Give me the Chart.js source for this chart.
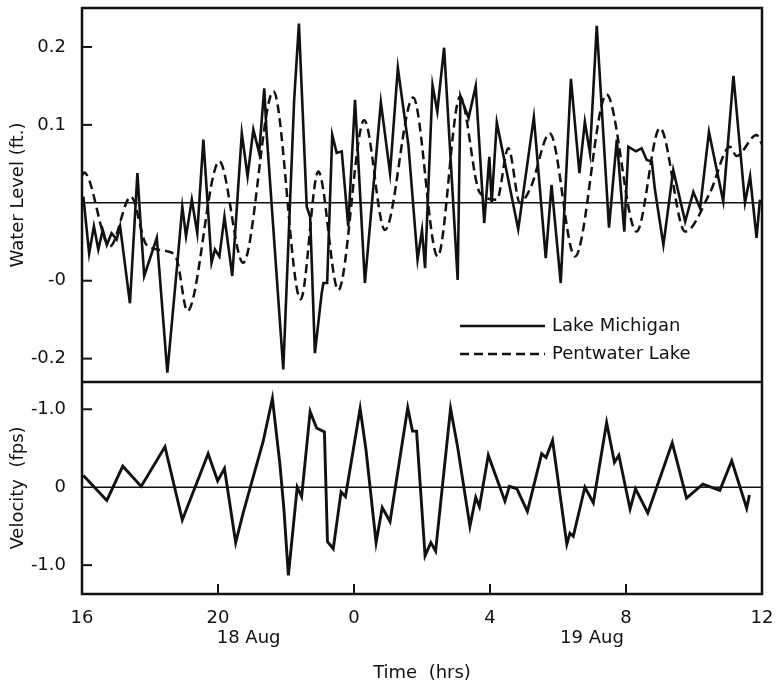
<!DOCTYPE html>
<html>
<head>
<meta charset="utf-8">
<title>Water level and velocity</title>
<script src="https://cdn.jsdelivr.net/npm/chart.js@4.4.0/dist/chart.umd.min.js"></script>
<style>
  html, body { margin: 0; padding: 0; background: #fff; }
</style>
</head>
<body>
<canvas id="levelChart" width="777" height="686"></canvas>
<script>
// hours since 0:00 on 18 Aug (16 = 16:00 18 Aug, 36 = 12:00 19 Aug)
const lmHours = [16.04,16.21,16.35,16.48,16.61,16.73,16.87,17.02,17.12,17.41,17.63,17.71,17.83,18.2,18.51,18.83,18.95,19.06,19.23,19.39,
  19.57,19.81,19.91,20.04,20.19,20.42,20.7,20.87,21.04,21.21,21.36,21.43,21.92,22.24,22.38,22.61,22.71,22.85,23.05,23.1,
  23.21,23.36,23.49,23.64,23.83,24.03,24.32,24.79,25.06,25.29,25.6,25.87,26.0,26.09,26.31,26.45,26.65,27.05,27.13,27.37,
  27.58,27.83,27.98,28.05,28.2,28.83,29.29,29.64,29.81,30.08,30.38,30.63,30.79,30.94,31.14,31.5,31.73,31.95,32.07,32.29,
  32.46,32.61,32.76,32.85,33.1,33.39,33.74,33.98,34.18,34.44,34.86,35.16,35.5,35.65,35.84,35.94];
const lmLevel = [0.008,-0.065,-0.03,-0.06,-0.035,-0.054,-0.039,-0.047,-0.03,-0.129,0.038,-0.018,-0.094,-0.045,-0.218,-0.065,-0.005,-0.043,0.004,-0.039,
  0.081,-0.077,-0.06,-0.069,-0.018,-0.094,0.089,0.034,0.094,0.064,0.147,0.089,-0.214,0.132,0.23,-0.005,-0.018,-0.193,-0.116,-0.103,
  -0.103,0.087,0.064,0.066,-0.03,0.132,-0.103,0.129,0.038,0.173,0.074,-0.073,-0.035,-0.084,0.151,0.117,0.199,-0.099,0.137,0.109,
  0.15,-0.026,0.059,0,0.103,-0.034,0.11,-0.071,0.023,-0.103,0.159,0.038,0.104,0.064,0.227,-0.032,0.081,-0.037,0.072,0.066,
  0.07,0.055,0.053,0.017,-0.054,0.042,-0.024,0.014,-0.007,0.091,0.002,0.163,0,0.034,-0.045,0.004];

const pwHours = [16.0,16.06,16.82,17.44,17.9,18.49,18.79,19.1,20.04,20.74,21.63,22.43,22.95,23.54,24.3,24.91,25.74,26.46,27.12,27.7,
  28.2,28.54,28.88,29.2,29.76,30.5,31.43,32.31,33.0,33.74,34.47,35.06,35.25,35.84,36.0];
const pwLevel = [0.035,0.039,-0.056,0.008,-0.054,-0.062,-0.073,-0.139,0.053,-0.077,0.143,-0.124,0.04,-0.112,0.106,-0.035,0.135,-0.069,0.136,0.013,
  0.004,0.07,0.0,0.02,0.089,-0.069,0.139,-0.037,0.096,-0.037,0.013,0.072,0.06,0.087,0.075];

const velHours = [16.04,16.73,17.2,17.74,18.44,18.95,19.71,19.99,20.19,20.52,20.74,21.33,21.6,21.82,21.94,22.07,22.33,22.46,22.71,22.9,
  23.13,23.22,23.39,23.62,23.75,24.18,24.35,24.65,24.83,25.06,25.58,25.72,25.84,26.09,26.26,26.4,26.84,27.05,27.41,27.58,
  27.69,27.95,28.44,28.57,28.79,29.1,29.52,29.65,29.84,30.26,30.35,30.45,30.79,31.04,31.43,31.66,31.79,32.12,32.28,32.64,
  33.36,33.78,34.26,34.76,35.11,35.55,35.63];
const velValues = [0.15,-0.17,0.27,0.01,0.52,-0.42,0.43,0.08,0.24,-0.71,-0.33,0.59,1.14,0.30,-0.29,-1.13,0.0,-0.12,0.97,0.76,
  0.71,-0.70,-0.79,-0.06,-0.12,1.01,0.49,-0.71,-0.26,-0.44,1.02,0.72,0.72,-0.88,-0.71,-0.82,1.01,0.51,-0.50,-0.13,
  -0.25,0.41,-0.18,0.01,-0.02,-0.31,0.43,0.38,0.60,-0.73,-0.59,-0.63,0.0,-0.2,0.83,0.32,0.41,-0.28,-0.02,-0.33,
  0.57,-0.14,0.04,-0.04,0.34,-0.27,-0.10];

const timeTicks = [16, 20, 24, 28, 32, 36];
const timeTickLabels = ['16', '20', '0', '4', '8', '12'];
const levelTicks = [0.2, 0.1, 0, -0.1, -0.2];
const levelTickLabels = ['0.2', '0.1', '', '-0', '-0.2'];
const velTicks = [1, 0, -1];
const velTickLabels = ['-1.0', '0', '-1.0'];
const dayLabels = ['18 Aug', '19 Aug'];
const dayLabelHours = [20.9, 31.0];

const INK = '#111';
const FONT = '"DejaVu Sans", sans-serif';

function toPoints(xs, ys) {
    return xs.map((h, i) => ({x: h, y: ys[i]}));
}

function line(ctx, x1, y1, x2, y2) {
    ctx.beginPath();
    ctx.moveTo(x1, y1);
    ctx.lineTo(x2, y2);
    ctx.stroke();
}

function fitY(s) {
    s.width = 82;
    s.paddingTop = 0;
    s.paddingBottom = 0;
}

// frame, zero lines, inward ticks, day labels and the legend box
const framePlugin = {
    id: 'frame',
    afterDraw(chart) {
        const ctx = chart.ctx;
        const a = chart.chartArea;
        const xs = chart.scales.x, ys = chart.scales.y, vs = chart.scales.y2;
        ctx.save();
        ctx.strokeStyle = INK;
        ctx.fillStyle = INK;

        ctx.lineWidth = 1.6;
        line(ctx, a.left, ys.getPixelForValue(0), a.right, ys.getPixelForValue(0));
        line(ctx, a.left, vs.getPixelForValue(0), a.right, vs.getPixelForValue(0));

        ctx.lineWidth = 2;
        levelTicks.forEach(v => {
            if (v !== 0) line(ctx, a.left, ys.getPixelForValue(v), a.left + 10, ys.getPixelForValue(v));
        });
        velTicks.forEach(v => {
            if (v !== 0) line(ctx, a.left, vs.getPixelForValue(v), a.left + 10, vs.getPixelForValue(v));
        });
        timeTicks.slice(1, -1).forEach(h => {
            line(ctx, xs.getPixelForValue(h), a.bottom, xs.getPixelForValue(h), a.bottom - 10);
        });

        ctx.lineWidth = 2.5;
        ctx.strokeRect(a.left, a.top, a.right - a.left, a.bottom - a.top);
        line(ctx, a.left, ys.bottom, a.right, ys.bottom);

        ctx.font = '18px ' + FONT;
        ctx.textAlign = 'center';
        ctx.textBaseline = 'middle';
        dayLabels.forEach((t, i) => ctx.fillText(t, xs.getPixelForValue(dayLabelHours[i]), a.bottom + 44));

        // legend
        ctx.textAlign = 'left';
        chart.data.datasets.slice(0, 2).forEach((ds, i) => {
            const ly = 326 + i * 28;
            ctx.lineWidth = 2.5;
            ctx.setLineDash(ds.borderDash || []);
            line(ctx, 460, ly, 545, ly);
            ctx.setLineDash([]);
            ctx.fillText(ds.label, 552, ly);
        });
        ctx.restore();
    }
};

new Chart(document.getElementById('levelChart').getContext('2d'), {
    type: 'line',
    data: {
        datasets: [{
            label: 'Lake Michigan',
            data: toPoints(lmHours, lmLevel),
            yAxisID: 'y',
            borderColor: INK,
            borderWidth: 2.6,
            pointRadius: 0,
            tension: 0
        }, {
            label: 'Pentwater Lake',
            data: toPoints(pwHours, pwLevel),
            yAxisID: 'y',
            borderColor: INK,
            borderWidth: 2.5,
            borderDash: [9, 5],
            pointRadius: 0,
            cubicInterpolationMode: 'monotone'
        }, {
            label: 'Velocity',
            data: toPoints(velHours, velValues),
            yAxisID: 'y2',
            borderColor: INK,
            borderWidth: 2.9,
            pointRadius: 0,
            tension: 0
        }]
    },
    options: {
        responsive: false,
        animation: false,
        layout: {padding: {top: 8, right: 15, left: 0, bottom: 0}},
        plugins: {legend: {display: false}, tooltip: {enabled: false}},
        scales: {
            x: {
                type: 'linear',
                min: 16,
                max: 36,
                afterBuildTicks: s => { s.ticks = timeTicks.map(v => ({value: v})); },
                afterFit: s => { s.height = 92; s.paddingLeft = 0; s.paddingRight = 0; },
                ticks: {
                    autoSkip: false,
                    maxRotation: 0,
                    padding: 6,
                    color: INK,
                    font: {family: FONT, size: 18},
                    callback: (v, i) => timeTickLabels[i]
                },
                grid: {display: false},
                border: {display: false},
                title: {
                    display: true,
                    text: 'Time  (hrs)',
                    color: INK,
                    font: {family: FONT, size: 18},
                    padding: {top: 0, bottom: 2}
                }
            },
            // velocity panel listed first so it is stacked below the water level panel
            y2: {
                type: 'linear',
                position: 'left',
                stack: 'panels',
                stackWeight: 1,
                min: -1.37,
                max: 1.35,
                afterBuildTicks: s => { s.ticks = velTicks.map(v => ({value: v})); },
                afterFit: fitY,
                ticks: {
                    autoSkip: false,
                    padding: 8,
                    color: INK,
                    font: {family: FONT, size: 18},
                    callback: (v, i) => velTickLabels[i]
                },
                grid: {display: false},
                border: {display: false},
                title: {
                    display: true,
                    text: 'Velocity  (fps)',
                    color: INK,
                    font: {family: FONT, size: 18},
                    padding: {top: 8, bottom: 0}
                }
            },
            y: {
                type: 'linear',
                position: 'left',
                stack: 'panels',
                stackWeight: 1.764,
                min: -0.23,
                max: 0.25,
                afterBuildTicks: s => { s.ticks = levelTicks.map(v => ({value: v})); },
                afterFit: fitY,
                ticks: {
                    autoSkip: false,
                    padding: 8,
                    color: INK,
                    font: {family: FONT, size: 18},
                    callback: (v, i) => levelTickLabels[i]
                },
                grid: {display: false},
                border: {display: false},
                title: {
                    display: true,
                    text: 'Water Level (ft.)',
                    color: INK,
                    font: {family: FONT, size: 18},
                    padding: {top: 8, bottom: 0}
                }
            }
        }
    },
    plugins: [framePlugin]
});
</script>
</body>
</html>
